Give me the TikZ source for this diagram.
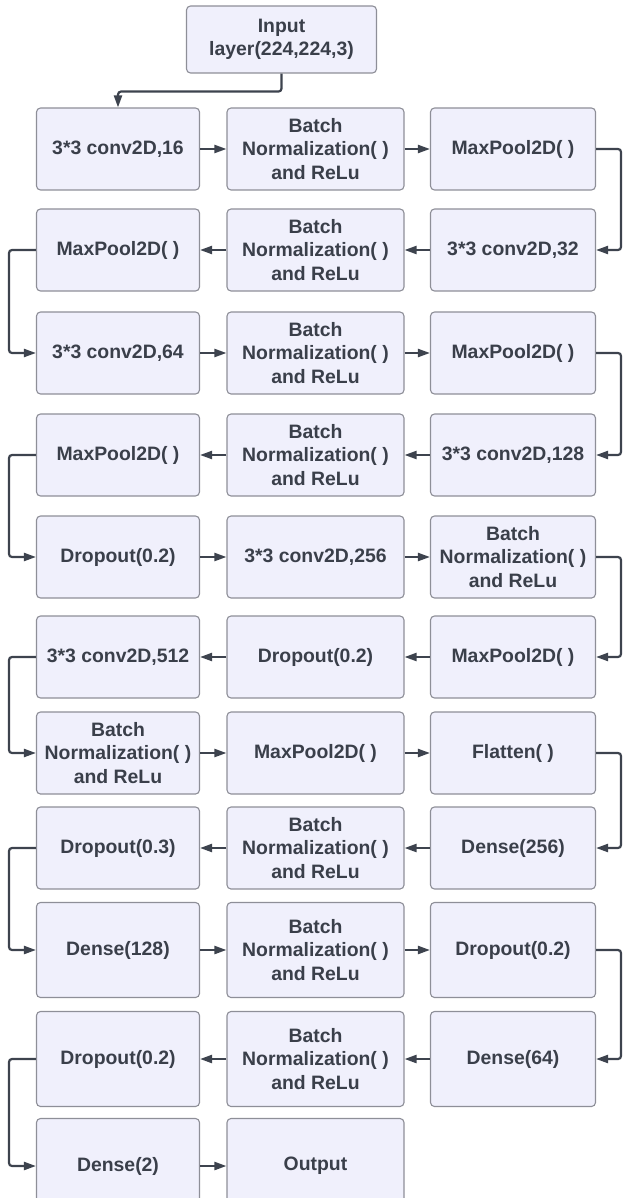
\documentclass[tikz,border=0pt]{standalone}
\usepackage{fontspec}
\setmainfont{Liberation Sans}
\usepackage{tikz}
\usetikzlibrary{arrows.meta}
\usetikzlibrary{calc}

\definecolor{boxfill}{RGB}{240,240,252}
\definecolor{boxline}{RGB}{142,143,152}
\definecolor{ink}{RGB}{58,63,74}
\definecolor{wire}{RGB}{61,67,78}
\newcommand{\lbl}{\fontsize{19.4}{23.5}\selectfont\bfseries}

\tikzset{
    layer/.style = {draw = boxline, fill = boxfill, line width = 1.1pt, rounded corners = 4pt,
        text = ink, font = \lbl, align = center, inner sep = 0pt, minimum height = 82pt},
    wA/.style = {layer, minimum width = 163pt},
    wB/.style = {layer, minimum width = 177pt},
    wC/.style = {layer, minimum width = 165pt},
    tall/.style = {minimum height = 95pt},
    link/.style = {draw = wire, line width = 2.2pt, rounded corners = 3pt,
        -{Triangle[length = 12pt, width = 8pt]}}
}

\begin{document}
\begin{tikzpicture}[x = 1pt, y = -1pt] % CNN layer flow
    \useasboundingbox (0, 0) rectangle (623, 1198);
    \clip (0, 0) rectangle (623, 1198);
    \coordinate (L) at (9, 0);
    \coordinate (R) at (621, 0);

    \node[layer, minimum width = 190pt, minimum height = 67pt] (inp) at (281.5, 39.5) {Input\\layer(224,224,3)};

    % Row 1
    \node[wA] (c16) at (118, 149) {3*3 conv2D,16};
    \node[wB] (bn1) at (315.5, 149) {Batch\\Normalization( )\\and ReLu};
    \node[wC] (mp1) at (513, 149) {MaxPool2D( )};
    % Row 2
    \node[wA] (mp2) at (118, 250) {MaxPool2D( )};
    \node[wB] (bn2) at (315.5, 250) {Batch\\Normalization( )\\and ReLu};
    \node[wC] (c32) at (513, 250) {3*3 conv2D,32};
    % Row 3
    \node[wA] (c64) at (118, 353) {3*3 conv2D,64};
    \node[wB] (bn3) at (315.5, 353) {Batch\\Normalization( )\\and ReLu};
    \node[wC] (mp3) at (513, 353) {MaxPool2D( )};
    % Row 4
    \node[wA] (mp4) at (118, 455) {MaxPool2D( )};
    \node[wB] (bn4) at (315.5, 455) {Batch\\Normalization( )\\and ReLu};
    \node[wC] (c128) at (513, 455) {3*3 conv2D,128};
    % Row 5
    \node[wA] (do1) at (118, 557) {Dropout(0.2)};
    \node[wB] (c256) at (315.5, 557) {3*3 conv2D,256};
    \node[wC] (bn5) at (513, 557) {Batch\\Normalization( )\\and ReLu};
    % Row 6
    \node[wA] (c512) at (118, 657) {3*3 conv2D,512};
    \node[wB] (do2) at (315.5, 657) {Dropout(0.2)};
    \node[wC] (mp5) at (513, 657) {MaxPool2D( )};
    % Row 7
    \node[wA] (bn6) at (118, 753) {Batch\\Normalization( )\\and ReLu};
    \node[wB] (mp6) at (315.5, 753) {MaxPool2D( )};
    \node[wC] (fl) at (513, 753) {Flatten( )};
    % Row 8
    \node[wA] (do3) at (118, 848) {Dropout(0.3)};
    \node[wB] (bn7) at (315.5, 848) {Batch\\Normalization( )\\and ReLu};
    \node[wC] (d256) at (513, 848) {Dense(256)};
    % Row 9
    \node[wA, tall] (d128) at (118, 950) {Dense(128)};
    \node[wB, tall] (bn8) at (315.5, 950) {Batch\\Normalization( )\\and ReLu};
    \node[wC, tall] (do4) at (513, 950) {Dropout(0.2)};
    % Row 10
    \node[wA, tall] (do5) at (118, 1059) {Dropout(0.2)};
    \node[wB, tall] (bn9) at (315.5, 1059) {Batch\\Normalization( )\\and ReLu};
    \node[wC, tall] (d64) at (513, 1059) {Dense(64)};
    % Row 11
    \node[wA, tall] (d2) at (118, 1166) {Dense(2)};
    \node[wB, tall] (out) at (315.5, 1166) {Output};

    % Arrows along the rows
    \draw[link] (inp.south) -- ++(0, 18) -| (c16.north);
    \draw[link] (c16) -- (bn1);   \draw[link] (bn1) -- (mp1);
    \draw[link] (c32) -- (bn2);   \draw[link] (bn2) -- (mp2);
    \draw[link] (c64) -- (bn3);   \draw[link] (bn3) -- (mp3);
    \draw[link] (c128) -- (bn4);  \draw[link] (bn4) -- (mp4);
    \draw[link] (do1) -- (c256);  \draw[link] (c256) -- (bn5);
    \draw[link] (mp5) -- (do2);   \draw[link] (do2) -- (c512);
    \draw[link] (bn6) -- (mp6);   \draw[link] (mp6) -- (fl);
    \draw[link] (d256) -- (bn7);  \draw[link] (bn7) -- (do3);
    \draw[link] (d128) -- (bn8);  \draw[link] (bn8) -- (do4);
    \draw[link] (d64) -- (bn9);   \draw[link] (bn9) -- (do5);
    \draw[link] (d2) -- (out);

    % Turns on the right side
    \draw[link] (mp1.east) -- (mp1.east -| R) |- (c32.east);
    \draw[link] (mp3.east) -- (mp3.east -| R) |- (c128.east);
    \draw[link] (bn5.east) -- (bn5.east -| R) |- (mp5.east);
    \draw[link] (fl.east) -- (fl.east -| R) |- (d256.east);
    \draw[link] (do4.east) -- (do4.east -| R) |- (d64.east);

    % Turns on the left side
    \draw[link] (mp2.west) -- (mp2.west -| L) |- (c64.west);
    \draw[link] (mp4.west) -- (mp4.west -| L) |- (do1.west);
    \draw[link] (c512.west) -- (c512.west -| L) |- (bn6.west);
    \draw[link] (do3.west) -- (do3.west -| L) |- (d128.west);
    \draw[link] (do5.west) -- (do5.west -| L) |- (d2.west);
\end{tikzpicture}
\end{document}
